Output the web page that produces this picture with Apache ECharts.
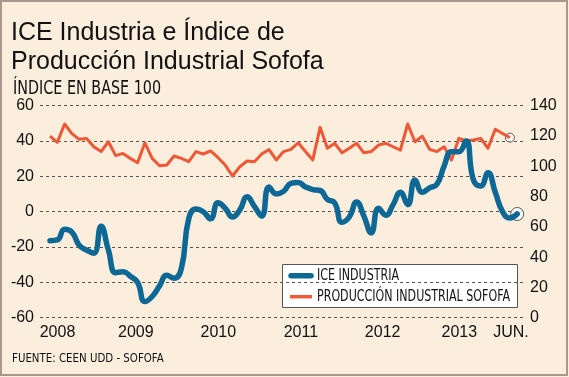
<!DOCTYPE html>
<html>
<head>
<meta charset="utf-8">
<style>
  html, body { margin: 0; padding: 0; background: #fbeedd; }
  #chart { width: 569px; height: 377px; }
</style>
<script src="https://cdn.jsdelivr.net/npm/echarts@6/dist/echarts.min.js"></script>
</head>
<body>
<div id="chart"></div>
<script>
// ICE Industria (eje izquierdo), una cifra por mes desde ene. 2008 hasta jun. 2013
var iceIndustria = [
  -16.4, -16, -10, -11.5, -19, -21.7, -23.5, -8.3, -21.7, -34.5,
  -34, -36.5, -40, -50.9, -48, -42, -36, -37.7, -32, -4,
  1.5, 0, -4, 5, 2, -3, 1, 8.5, 3, -2.5,
  14, 10, 11.5, 16, 16.5, 14, 12.5, 12, 7, 5,
  -6, -3, 5.5, -2.5, -12, 2, -2, 4, 11, 4,
  18, 11, 13.5, 15.5, 26, 34, 34, 40, 18, 14.5,
  22, 11, 0, -3.5, -1.3
]
// Producción industrial Sofofa (eje derecho)
var prodSofofa = [
  119.9, 115.8, 127.9, 121.6, 117.8, 118.4, 112.9, 109.7, 116.2, 107,
  108.5, 105.2, 102.3, 115.5, 105.2, 100.3, 100.8, 106.8, 105.2, 103,
  109.7, 108.1, 110.1, 105.8, 100.8, 93.6, 99.7, 103.5, 103, 108.1,
  111, 104.2, 109.7, 111.2, 115.5, 109.7, 104.2, 125.7, 111.9, 115.2,
  108.9, 111.9, 115.2, 108.9, 109.7, 114, 115.2, 112.9, 110.7, 127.9,
  116.2, 119.9, 111.2, 109.7, 112.9, 104.2, 118.4, 116.9, 117.4, 118.4,
  111.9, 124.4, 121.6, 118.9
]
var xLabels = ['2008', '2009', '2010', '2011', '2012', '2013', 'JUN.']
var xLabelPos = [1.03, 11.76, 23.06, 34.37, 45.57, 56.08, 63.15]
var seriesNames = ['ICE INDUSTRIA', 'PRODUCCIÓN INDUSTRIAL SOFOFA']

var BLUE = '#0d6896'
var RED = '#ef5736'
var narrow = "'DejaVu Sans Condensed', 'DejaVu Sans', sans-serif"
var regular = "'Liberation Sans', 'DejaVu Sans', sans-serif"

function toPairs (arr) {
  return arr.map(function (v, i) { return [i, v] })
}
// texto angosto (la fuente original es condensada)
function narrowText (str, x, y, size, sx) {
  return {
    type: 'text',
    silent: true,
    x: x,
    y: y,
    scaleX: sx,
    style: {
      text: str,
      fill: '#111',
      font: size + 'px ' + narrow,
      verticalAlign: 'middle'
    }
  }
}
var iceLast = iceIndustria.length - 1
var prodLast = prodSofofa.length - 1

var myChart = echarts.init(document.getElementById('chart'))
var option = {
  backgroundColor: '#fbeedd',
  animation: false,
  title: {
    text: 'ICE Industria e Índice de\nProducción Industrial Sofofa',
    left: 11,
    top: 19,
    padding: 0,
    textStyle: {
      fontFamily: regular,
      fontWeight: 'normal',
      fontSize: 25,
      lineHeight: 29,
      color: '#111'
    }
  },
  graphic: [{
    type: 'rect',
    silent: true,
    shape: { x: 1, y: 1, width: 566, height: 374 },
    style: { fill: 'none', stroke: '#a8978a', lineWidth: 2 }
  },
  narrowText('ÍNDICE EN BASE 100', 13, 89, 19, 0.84),
  narrowText('FUENTE: CEEN UDD - SOFOFA', 12, 359, 12.5, 0.91),
  // leyenda
  {
    type: 'rect',
    silent: true,
    shape: { x: 282.5, y: 264.5, width: 235, height: 43 },
    style: { fill: '#fff', stroke: '#555', lineWidth: 1 }
  }, {
    type: 'line',
    silent: true,
    shape: { x1: 291, y1: 275.7, x2: 311, y2: 275.7 },
    style: { stroke: BLUE, lineWidth: 5.5, lineCap: 'round' }
  }, {
    type: 'line',
    silent: true,
    shape: { x1: 290, y1: 296.7, x2: 312, y2: 296.7 },
    style: { stroke: RED, lineWidth: 3.5 }
  },
  narrowText(seriesNames[0], 317, 276, 16, 0.77),
  narrowText(seriesNames[1], 317, 297, 16, 0.77)
  ],
  grid: {
    left: 40,
    right: 44,
    top: 105.7,
    bottom: 59.3,
    containLabel: false
  },
  xAxis: {
    type: 'value',
    min: -1.37,
    max: 65.07,
    axisLine: { show: false },
    axisTick: { show: false },
    splitLine: { show: false },
    axisLabel: {
      customValues: xLabelPos,
      margin: 7,
      fontFamily: regular,
      fontSize: 16,
      color: '#111',
      formatter: function (val) {
        var idx = xLabelPos.indexOf(val)
        return idx >= 0 ? xLabels[idx] : ''
      }
    }
  },
  yAxis: [{
    type: 'value',
    min: -60,
    max: 60,
    interval: 20,
    axisLine: { show: false },
    axisTick: { show: false },
    axisLabel: {
      margin: 6,
      fontFamily: regular,
      fontSize: 16,
      color: '#111'
    },
    splitLine: {
      lineStyle: {
        color: '#555',
        width: 1,
        type: [3, 3]
      }
    }
  }, {
    type: 'value',
    min: 0,
    max: 140,
    interval: 20,
    axisLine: { show: false },
    axisTick: { show: false },
    splitLine: { show: false },
    axisLabel: {
      margin: 5,
      fontFamily: regular,
      fontSize: 16,
      color: '#111'
    }
  }],
  series: [{
    name: seriesNames[1],
    type: 'line',
    yAxisIndex: 1,
    symbol: 'none',
    smooth: false,
    lineStyle: { width: 3, color: RED, join: 'round' },
    data: toPairs(prodSofofa)
  }, {
    name: seriesNames[0],
    type: 'line',
    yAxisIndex: 0,
    symbol: 'none',
    smooth: 0.5,
    lineStyle: { width: 5.5, color: BLUE, cap: 'round' },
    data: toPairs(iceIndustria)
  }, {
    type: 'scatter',
    yAxisIndex: 1,
    symbolSize: 9,
    silent: true,
    itemStyle: { color: '#fff', borderColor: '#333', borderWidth: 1 },
    data: [[prodLast, prodSofofa[prodLast]]]
  }, {
    type: 'scatter',
    yAxisIndex: 0,
    symbolSize: 13,
    silent: true,
    itemStyle: { color: '#fff', borderColor: '#333', borderWidth: 1 },
    data: [[iceLast, iceIndustria[iceLast]]]
  }]
}
myChart.setOption(option)
</script>
</body>
</html>
